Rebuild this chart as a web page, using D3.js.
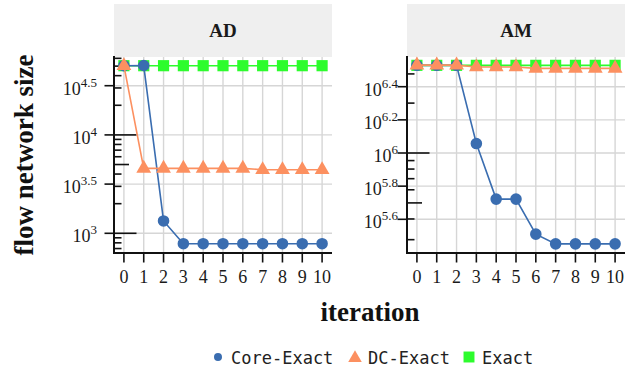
<!DOCTYPE html>
<html><head><meta charset="utf-8">
<script src="https://cdn.jsdelivr.net/npm/d3@7"></script>
<style>
html,body{margin:0;padding:0;background:#fff;}
svg{display:block;}
</style></head>
<body>
<svg id="chart" width="634" height="372"></svg>
<script>
// ---- data ----
const iterations = [0,1,2,3,4,5,6,7,8,9,10];
const seriesNames = ["Core-Exact","DC-Exact","Exact"];
const panels = ["AD","AM"];
const coreAD  = [50500,50700,1335,784,784,784,784,784,784,784,784];
const dcAD    = [50500,4570,4570,4570,4570,4570,4570,4420,4420,4420,4420];
const exactAD = [50500,50500,50500,50500,50500,50500,50500,50500,50500,50500,50500];
const coreAM  = [3380000,3380000,3380000,1140000,527000,527000,324000,283000,283000,283000,283000];
const dcAM    = [3390000,3390000,3390000,3300000,3300000,3300000,3240000,3240000,3240000,3240000,3240000];
const exactAM = [3380000,3380000,3380000,3380000,3380000,3380000,3380000,3380000,3380000,3380000,3380000];
const yTicksAD = ["3","3.5","4","4.5"];
const yTicksAM = ["5.6","5.8","6","6.2","6.4"];
const yDomainLogAD = [2.7998, 4.7917];
const yDomainLogAM = [5.3967, 6.5792];

const colors = {"Core-Exact":"#3a6db0","DC-Exact":"#fc9060","Exact":"#2dfc2d"};

const svg = d3.select("#chart");
const serif = "'Liberation Serif', 'DejaVu Serif', serif";

const panelDefs = [
  {name:"AD", x0:114, x1:332, series:{"Core-Exact":coreAD,"DC-Exact":dcAD,"Exact":exactAD}, ticks:yTicksAD, dom:yDomainLogAD, labelEnd:97},
  {name:"AM", x0:407, x1:625, series:{"Core-Exact":coreAM,"DC-Exact":dcAM,"Exact":exactAM}, ticks:yTicksAM, dom:yDomainLogAM, labelEnd:398}
];
const yTop = 57, yBot = 253, stripTop = 4;

panelDefs.forEach(p => {
  const x = d3.scaleLinear().domain([-0.5,10.5]).range([p.x0,p.x1]);
  const y = d3.scaleLog().domain([Math.pow(10,p.dom[0]), Math.pow(10,p.dom[1])]).range([yBot,yTop]);
  const g = svg.append("g");

  // strip
  g.append("rect").attr("x",p.x0).attr("y",stripTop).attr("width",p.x1-p.x0).attr("height",yTop-stripTop).attr("fill","#efefef");
  g.append("text").attr("x",(p.x0+p.x1)/2).attr("y",37).attr("text-anchor","middle")
    .attr("font-family",serif).attr("font-weight","bold").attr("font-size",19).attr("fill","#1a1a1a").text(p.name);

  // grid
  g.selectAll(".vg").data(iterations).enter().append("line")
    .attr("x1",d=>x(d)).attr("x2",d=>x(d)).attr("y1",yTop).attr("y2",yBot)
    .attr("stroke","#d6d6d6").attr("stroke-width",1.4);
  g.selectAll(".hg").data(p.ticks).enter().append("line")
    .attr("x1",p.x0).attr("x2",p.x1).attr("y1",d=>y(Math.pow(10,+d))).attr("y2",d=>y(Math.pow(10,+d)))
    .attr("stroke","#d6d6d6").attr("stroke-width",1.4);

  // log ticks (annotation_logticks style)
  const lt = [];
  for (let k=Math.floor(p.dom[0]); k<=Math.ceil(p.dom[1]); k++){
    for (let i=1;i<=9;i++){
      const v = i*Math.pow(10,k);
      const lv = Math.log10(v);
      if (lv>=p.dom[0] && lv<=p.dom[1]) lt.push({v, len: i===1?22.5:(i===5?15:7.5)});
    }
  }
  g.selectAll(".lt").data(lt).enter().append("line")
    .attr("x1",p.x0).attr("x2",d=>p.x0+d.len).attr("y1",d=>y(d.v)).attr("y2",d=>y(d.v))
    .attr("stroke","#111").attr("stroke-width",1.6);

  // axis ticks
  g.selectAll(".yt").data(p.ticks).enter().append("line")
    .attr("x1",p.x0-9.5).attr("x2",p.x0).attr("y1",d=>y(Math.pow(10,+d))).attr("y2",d=>y(Math.pow(10,+d)))
    .attr("stroke","#111").attr("stroke-width",1.6);
  g.selectAll(".xt").data(iterations).enter().append("line")
    .attr("x1",d=>x(d)).attr("x2",d=>x(d)).attr("y1",yBot).attr("y2",yBot+9.5)
    .attr("stroke","#111").attr("stroke-width",1.6);

  // axis lines
  g.append("line").attr("x1",p.x0).attr("x2",p.x0).attr("y1",yTop-1).attr("y2",yBot+1).attr("stroke","#111").attr("stroke-width",2);
  g.append("line").attr("x1",p.x0-1).attr("x2",p.x1).attr("y1",yBot).attr("y2",yBot).attr("stroke","#111").attr("stroke-width",2);

  // y tick labels
  const yl = g.selectAll(".yl").data(p.ticks).enter().append("text")
    .attr("x",p.labelEnd).attr("y",d=>y(Math.pow(10,+d))+9)
    .attr("text-anchor","end").attr("font-family",serif).attr("fill","#1a1a1a");
  yl.append("tspan").attr("font-size",18).text("10");
  yl.append("tspan").attr("font-size",13).attr("dy",-8).text(d=>d);

  // x tick labels
  g.selectAll(".xl").data(iterations).enter().append("text")
    .attr("x",d=>x(d)).attr("y",283).attr("text-anchor","middle")
    .attr("font-family",serif).attr("font-size",18).attr("fill","#1a1a1a").text(d=>d);

  // series: Exact (bottom), Core-Exact, DC-Exact (top)
  const order = ["Exact","Core-Exact","DC-Exact"];
  const line = d3.line().x((d,i)=>x(iterations[i])).y(d=>y(d));
  order.forEach(s => {
    const vals = p.series[s];
    g.append("path").datum(vals).attr("d",line).attr("fill","none")
      .attr("stroke",colors[s]).attr("stroke-width",1.6);
    const sym = s==="Core-Exact"?d3.symbolCircle:(s==="DC-Exact"?d3.symbolTriangle:d3.symbolSquare);
    const size = s==="Core-Exact"?105:(s==="DC-Exact"?95:125);
    g.selectAll(".pt"+s).data(vals).enter().append("path")
      .attr("transform",(d,i)=>`translate(${x(iterations[i])},${y(d)})`)
      .attr("d",d3.symbol().type(sym).size(size))
      .attr("fill",colors[s]);
  });
});

// axis titles
svg.append("text").attr("transform","translate(33,155) rotate(-90)").attr("text-anchor","middle")
  .attr("font-family",serif).attr("font-weight","bold").attr("font-size",27).attr("fill","#111").text("flow network size");
svg.append("text").attr("x",370).attr("y",321).attr("text-anchor","middle")
  .attr("font-family",serif).attr("font-weight","bold").attr("font-size",27).attr("fill","#111").text("iteration");

// legend
const legendX = [218,355,469];
const mono = "'DejaVu Sans Mono', monospace";
seriesNames.forEach((s,i)=>{
  const sym = s==="Core-Exact"?d3.symbolCircle:(s==="DC-Exact"?d3.symbolTriangle:d3.symbolSquare);
  const size = s==="Core-Exact"?50:(s==="DC-Exact"?80:120);
  svg.append("path").attr("transform",`translate(${legendX[i]},${s==="DC-Exact"?358:357})`)
    .attr("d",d3.symbol().type(sym).size(size)).attr("fill",colors[s]);
  svg.append("text").attr("x",legendX[i]+13).attr("y",364).attr("font-family",mono).attr("font-size",17)
    .attr("fill","#222").text(s);
});
</script>
</body></html>
